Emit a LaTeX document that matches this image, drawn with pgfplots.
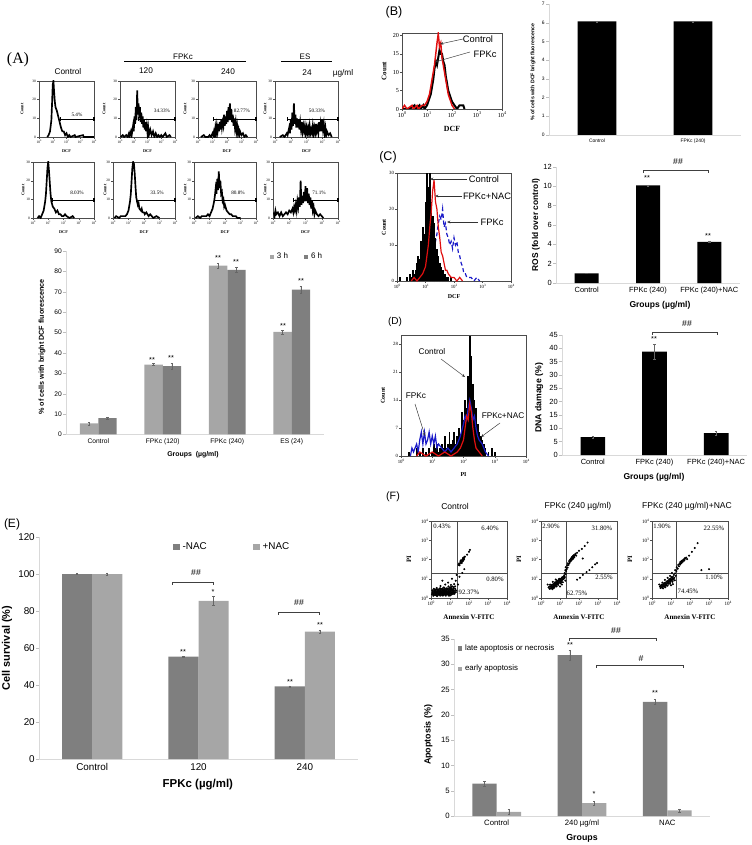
\documentclass[border=0pt]{standalone}
\usepackage{fontspec}
\setmainfont{Liberation Sans}
\newfontfamily\tm{Liberation Serif}
\usepackage{pgfplots}
\pgfplotsset{compat=1.18}
\usetikzlibrary{arrows.meta}
\newcommand{\fs}[1]{\fontsize{#1}{#1}\selectfont}
\newcommand{\sx}[1]{10\raisebox{.4em}{\scalebox{.7}{#1}}}
\definecolor{lg}{HTML}{A6A6A6}
\definecolor{dg}{HTML}{7F7F7F}
\definecolor{hblue}{HTML}{1A1AC8}
\definecolor{hred}{HTML}{E01010}
\pgfplotsset{
  /pgf/number format/assume math mode=true,
  pos/.style n args={4}{at={(#1*0.75pt,-#2*0.75pt)},anchor=north west,width=#3*0.75pt,height=#4*0.75pt,scale only axis},
  % flow histogram / dot plot frame
  logx/.style={xmin=0,xmax=4,xtick={0,1,2,3,4},xticklabels={\sx{0},\sx{1},\sx{2},\sx{3},\sx{4}},
    minor xtick={.3,.48,.6,.7,.78,.85,.9,.95,1.3,1.48,1.6,1.7,1.78,1.85,1.9,1.95,2.3,2.48,2.6,2.7,2.78,2.85,2.9,2.95,3.3,3.48,3.6,3.7,3.78,3.85,3.9,3.95}},
  frame/.style={logx,ymin=0,axis line style={black!70,line width=.45pt},tick align=outside,xtick pos=bottom,ytick pos=left,
    major tick length=1.5pt,minor tick length=.8pt,tick style={black!70,line width=.25pt},
    every tick label/.append style={inner sep=.6pt}},
  hl/.style={line width=#1,black,mark=none},
  % bar panels
  bars/.style={ybar=0pt,ymin=0,axis x line*=bottom,axis y line*=left,axis line style={black!15,line width=.6pt},
    tick align=outside,x tick style={draw=none},y tick style={black!25,line width=.3pt},major tick length=2pt,
    every tick label/.append style={inner sep=1pt},scaled ticks=false,
    legend image code/.code={\draw[##1,draw=none] (0,-1.6pt) rectangle (3.2pt,1.6pt);},
    legend style={draw=none,fill=none,inner sep=0pt}},
  errs/.style={error bars/.cd,y dir=both,y explicit,error bar style={black!60,line width=.3pt},error mark options={rotate=90,mark size=.9pt,line width=.3pt,black!60}},
  xl/.style n args={2}{xlabel style={at={(axis description cs:#1,#2)},anchor=center,inner sep=0pt}},
  yl/.style n args={2}{ylabel style={at={(axis description cs:#1,#2)},anchor=center,inner sep=0pt}},
  dots/.style={only marks,mark=*,mark size=.55pt,black},
}
% left, top, width, offset of Count, gate start (decades), data
\newcommand{\histA}[6]{%
\begin{axis}[pos={#1}{#2}{#3}{56},frame,ymax=30,ytick={0,10,20,30},
  tick label style={font=\tm\fs{2.7}},xlabel={DCF},ylabel={Count},
  xlabel style={font=\tm\bfseries\fs{3.2},at={(axis description cs:.5,0)},anchor=center,yshift=-10.8pt},
  ylabel style={font=\tm\bfseries\fs{3.2},at={(axis description cs:0,.5)},anchor=center,yshift=#4*.75pt}]
\addplot[hl=1.25pt] coordinates {#6};
\addplot[line width=.8pt,black,mark=|,mark size=1.4pt] coordinates {(#5,9.5) (4,9.5)};
\end{axis}}
\begin{document}
\begin{tikzpicture}[x=0.75pt,y=-0.75pt]
\path[use as bounding box] (0,0) rectangle (751,845);

% ---- (A) histograms
\histA{39}{81}{55}{17}{1.53}{(0.6,0)(0.7,1)(0.8,3)(0.9,9)(0.95,18)(1,28)(1.05,30)(1.1,24)(1.15,19)(1.2,16)(1.3,14)(1.4,11)(1.5,8)(1.6,5)(1.7,3)(1.8,3)(1.9,1)(2,2)(2.1,0)(2.2,1)(2.3,0)(2.6,1)(2.65,0)(3.2,1)(3.25,0)(4,0)}
\histA{120}{81}{55}{16}{1.33}{(0.05,0)(0.2,1)(0.3,0)(0.45,1)(0.55,0)(0.65,2)(0.7,0)(0.8,3)(0.85,1)(0.95,6)(1,3)(1.05,11)(1.1,7)(1.15,16)(1.2,9)(1.25,25)(1.3,12)(1.35,18)(1.4,10)(1.45,16)(1.5,8)(1.55,13)(1.6,7)(1.65,11)(1.7,5)(1.75,9)(1.8,4)(1.85,8)(1.9,3)(1.95,6)(2,2)(2.05,5)(2.1,1)(2.2,4)(2.3,1)(2.4,3)(2.5,0)(2.6,2)(2.7,0)(2.8,1)(2.9,0)(3,1)(3.1,0)(3.3,2)(3.4,0)(3.6,1)(3.7,0)}
\histA{198}{81}{58}{13}{1.05}{(0.2,0)(0.4,1)(0.5,0)(0.7,0)(0.8,1)(0.9,0)(1,2)(1.05,1)(1.1,3)(1.15,1)(1.2,5)(1.25,2)(1.3,6)(1.35,3)(1.4,7)(1.45,3)(1.5,8)(1.55,4)(1.6,9)(1.65,5)(1.7,8)(1.75,6)(1.8,12)(1.85,6)(1.9,11)(1.95,7)(2,14)(2.05,8)(2.1,16)(2.15,9)(2.2,18)(2.25,9)(2.3,15)(2.35,8)(2.4,12)(2.45,6)(2.5,10)(2.55,5)(2.6,8)(2.65,3)(2.7,6)(2.75,2)(2.8,4)(2.85,1)(2.9,3)(3,1)(3.1,2)(3.2,0)(3.3,1)(3.4,0)}
\histA{275}{81}{63}{10}{0.8}{(0.3,0)(0.5,1)(0.6,0)(0.75,2)(0.8,1)(0.9,5)(0.95,2)(1,9)(1.05,4)(1.1,13)(1.15,6)(1.2,18)(1.25,7)(1.3,12)(1.35,5)(1.4,10)(1.45,5)(1.5,9)(1.55,4)(1.6,8)(1.65,4)(1.7,8)(1.75,3)(1.8,6)(1.85,3)(1.9,6)(1.95,2)(2,5)(2.05,2)(2.1,5)(2.15,2)(2.2,6)(2.25,2)(2.3,4)(2.35,2)(2.4,6)(2.45,2)(2.5,5)(2.55,2)(2.6,7)(2.65,3)(2.7,5)(2.75,2)(2.8,8)(2.85,3)(2.9,7)(2.95,3)(3,9)(3.05,4)(3.1,7)(3.15,2)(3.2,5)(3.25,1)(3.3,3)(3.4,1)(3.5,2)(3.6,0)}
\histA{33}{162}{61}{10}{1.3}{(0.3,0)(0.4,1)(0.5,0)(0.6,2)(0.7,4)(0.8,9)(0.85,13)(0.9,20)(0.95,27)(1,30)(1.05,25)(1.1,19)(1.15,13)(1.2,9)(1.3,6)(1.4,5)(1.5,3)(1.6,4)(1.7,2)(1.8,2)(1.9,1)(2,1)(2.1,2)(2.2,1)(2.4,0)(2.6,1)(2.7,0)}
\histA{113}{162}{62}{8}{1.5}{(0.1,0)(0.2,1)(0.4,0)(0.5,1)(0.7,1)(0.8,1)(0.9,2)(1,4)(1.1,9)(1.15,13)(1.2,20)(1.25,27)(1.3,30)(1.35,29)(1.4,24)(1.45,17)(1.5,11)(1.55,9)(1.6,7)(1.65,8)(1.7,5)(1.8,4)(1.85,5)(1.9,3)(2,3)(2.05,2)(2.15,3)(2.3,1)(2.4,2)(2.6,0)(2.8,1)(3,0)}
\histA{194}{162}{62}{9}{1.35}{(0.1,0)(0.25,1)(0.4,0)(0.5,1)(0.6,1)(0.8,1)(0.9,2)(1,1)(1.1,3)(1.2,5)(1.3,9)(1.35,12)(1.4,16)(1.45,13)(1.5,21)(1.55,15)(1.6,25)(1.65,16)(1.7,20)(1.75,13)(1.8,14)(1.85,9)(1.9,10)(1.95,6)(2,7)(2.1,4)(2.2,3)(2.3,2)(2.4,2)(2.5,1)(2.7,1)(2.8,0)(3,0)}
\histA{273}{162}{65}{8}{1.25}{(0.05,3)(0.1,1)(0.15,4)(0.2,2)(0.3,3)(0.4,1)(0.5,3)(0.6,1)(0.7,2)(0.8,3)(0.9,2)(1,4)(1.1,3)(1.2,5)(1.25,3)(1.3,6)(1.35,4)(1.4,7)(1.45,4)(1.5,9)(1.55,6)(1.6,11)(1.65,6)(1.7,20)(1.75,7)(1.8,12)(1.85,8)(1.9,14)(1.95,9)(2,17)(2.05,9)(2.1,16)(2.15,8)(2.2,13)(2.25,7)(2.3,11)(2.35,5)(2.4,9)(2.45,4)(2.5,6)(2.55,2)(2.6,4)(2.7,2)(2.8,1)(2.9,2)(3,1)(3.1,0)}

% ---- (A) bars
\begin{axis}[pos={66}{251}{258}{183.5},bars,bar width=13.7pt,xmin=-.5,xmax=3.5,ymax=90,ytick={0,10,...,90},
  xtick={0,1,2,3},xticklabels={Control,FPKc (120),FPKc (240),ES (24)},tick label style={font=\fs{5}},
  xlabel={Groups\ \ (\textmu g/ml)},xl={.492}{-.112},xlabel style={font=\bfseries\fs{5.2}},
  ylabel={\% of cells with bright DCF fluorescence},yl={-.093}{.477},ylabel style={font=\bfseries\fs{5.4}},
  legend columns=2,legend style={at={(.897,.967)},anchor=center,font=\fs{6},/tikz/every even column/.append style={column sep=10pt}}]
\addplot[fill=lg,draw=none,errs] coordinates {(0,5.4)+-(0,.6) (1,34.33)+-(0,.5) (2,82.77)+-(0,1.3) (3,50.33)+-(0,.9)};
\addplot[fill=dg,draw=none,errs] coordinates {(0,8.03)+-(0,.4) (1,33.5)+-(0,1.5) (2,80.8)+-(0,1.4) (3,71.1)+-(0,1.8)};
\legend{3 h,6 h}
\end{axis}

% ---- (B)
\begin{axis}[pos={402}{33}{100}{76},frame,ymax=20.7,ytick={0,5,10,15,20},tick label style={font=\tm\fs{4.6}},
  xlabel={DCF},ylabel={Count},
  xlabel style={font=\tm\bfseries\fs{5.9},at={(axis description cs:.5,0)},anchor=center,yshift=-15pt},
  ylabel style={font=\tm\bfseries\fs{5.2},at={(axis description cs:0,.5)},anchor=center,yshift=13.5pt}]
\addplot[hl=1.5pt] coordinates {(0,0)(0.3,0)(0.5,1)(0.55,0)(0.7,1)(0.75,0)(0.85,1)(0.9,0)(1,1)(1.05,2)(1.1,3)(1.15,4)(1.2,6)(1.25,8)(1.3,11)(1.35,13)(1.4,12)(1.45,14)(1.5,16)(1.55,15)(1.6,15)(1.65,13)(1.7,12)(1.75,9)(1.8,7)(1.85,5)(1.9,4)(2,2)(2.1,1)(2.2,0)(2.3,1)(2.45,1)(2.5,0)};
\addplot[hl=1.1pt,hred] coordinates {(0,0)(0.1,1)(0.2,0)(0.4,1)(0.45,0)(0.6,1)(0.65,0)(0.8,1)(0.9,1)(1,2)(1.05,3)(1.1,4)(1.15,6)(1.2,8)(1.25,10)(1.3,12)(1.35,15)(1.4,18)(1.45,20.5)(1.5,17)(1.55,18)(1.6,14)(1.65,12)(1.7,10)(1.75,8)(1.8,6)(1.85,4)(1.9,3)(2,1)(2.1,0)};
\end{axis}
\begin{axis}[pos={549}{4}{192}{131},bars,bar width=29pt,xmin=-.5,xmax=1.5,ymax=7,ytick={0,...,7},
  xtick={0,1},xticklabels={Control,FPKc (240)},tick label style={font=\fs{3.7}},
  ylabel={\% of cells with DCF bright fluorescence},yl={-.083}{.48},ylabel style={font=\bfseries\fs{3.9}}]
\addplot[fill=black,draw=none,errs] coordinates {(0,6.07)+-(0,.03) (1,6.07)+-(0,.03)};
\end{axis}

% ---- (C)
\begin{axis}[pos={397}{173}{114}{108},frame,ymax=30,ytick={0,10,20,30},tick label style={font=\tm\fs{3.6}},
  xlabel={DCF},ylabel={Count},
  xlabel style={font=\tm\bfseries\fs{4.5},at={(axis description cs:.5,0)},anchor=center,yshift=-12pt},
  ylabel style={font=\tm\bfseries\fs{4.5},at={(axis description cs:0,.5)},anchor=center,yshift=9.8pt}]
\addplot[hblue,line width=.9pt,densely dashed,mark=none] coordinates {(0.7,0)(0.8,1)(1,1)(1.1,2)(1.2,5)(1.3,8)(1.35,11)(1.4,13)(1.45,16)(1.5,18)(1.55,17)(1.6,20)(1.65,15)(1.7,16)(1.75,13)(1.8,12)(1.85,10)(1.9,11)(1.95,9)(2,12)(2.05,10)(2.1,11)(2.15,8)(2.2,7)(2.25,5)(2.3,4)(2.35,2)(2.4,2)(2.45,1)(2.5,1)(2.6,1)(2.7,0)(2.8,1)(2.9,0)};
\addplot[ycomb,black,line width=1.5pt,mark=none] coordinates {(0.1,1)(0.2,0)(0.35,1)(0.45,2)(0.5,1)(0.55,3)(0.6,2)(0.65,3)(0.7,5)(0.75,7)(0.8,6)(0.85,11)(0.9,15)(0.95,13)(1,22)(1.05,30)(1.1,26)(1.15,30)(1.2,22)(1.25,18)(1.3,16)(1.35,12)(1.4,9)(1.45,7)(1.5,5)(1.55,4)(1.6,3)(1.65,2)(1.7,2)(1.75,1)(1.8,1)(1.9,1)(2,0)};
\addplot[hl=.9pt,hred] coordinates {(0.5,0)(0.6,1)(0.7,0)(0.8,1)(0.9,2)(1,4)(1.05,7)(1.1,10)(1.15,15)(1.2,19)(1.25,25)(1.3,28)(1.35,22)(1.4,20)(1.45,15)(1.5,12)(1.55,8)(1.6,7)(1.65,5)(1.7,3)(1.75,3)(1.8,2)(1.9,1)(2,1)(2.1,0)(2.2,1)(2.3,0)};
\end{axis}
\begin{axis}[pos={556}{167}{184}{116},bars,bar width=18pt,xmin=-.5,xmax=2.5,ymax=12,ytick={0,2,...,12},
  xtick={0,1,2},xticklabels={Control,FPKc (240),FPKc (240)+NAC},tick label style={font=\fs{5.6}},
  xlabel={Groups (\textmu g/ml)},xl={.565}{-.19},xlabel style={font=\bfseries\fs{6.4}},
  ylabel={ROS (fold over control)},yl={-.109}{.5},ylabel style={font=\bfseries\fs{6.3}}]
\addplot[fill=black,draw=none,errs] coordinates {(0,1)+-(0,.02) (1,10.1)+-(0,.06) (2,4.25)+-(0,.06)};
\end{axis}

% ---- (D)
\begin{axis}[pos={401}{335}{125}{121},frame,ymax=30.25,ytick={0,7,14,21,28},tick label style={font=\tm\fs{3.6}},
  xlabel={PI},ylabel={Count},
  xlabel style={font=\tm\bfseries\fs{4.5},at={(axis description cs:.5,0)},anchor=center,yshift=-14.2pt},
  ylabel style={font=\tm\bfseries\fs{4.5},at={(axis description cs:0,.5)},anchor=center,yshift=13.5pt}]
\addplot[ycomb,black,line width=1.4pt,mark=none] coordinates {(0.25,1)(0.35,0)(0.5,2)(0.6,1)(0.7,2)(0.8,1)(0.9,2)(1,1)(1.05,3)(1.1,2)(1.15,3)(1.2,1)(1.25,2)(1.3,3)(1.35,2)(1.4,5)(1.45,2)(1.5,3)(1.55,6)(1.6,3)(1.65,4)(1.7,6)(1.75,3)(1.8,5)(1.85,7)(1.9,5)(1.95,11)(2,9)(2.05,14)(2.1,12)(2.15,20)(2.2,30)(2.25,25)(2.3,18)(2.35,14)(2.4,12)(2.45,8)(2.5,6)(2.55,5)(2.6,4)(2.65,3)(2.7,2)(2.8,1)(2.9,2)(3,1)};
\addplot[hblue,line width=.9pt,mark=none] coordinates {(0.3,0)(0.35,2)(0.4,1)(0.5,3)(0.55,1)(0.6,4)(0.65,6)(0.7,3)(0.75,6)(0.8,3)(0.85,4)(0.9,6)(0.95,3)(1,5)(1.05,3)(1.1,5)(1.15,2)(1.2,3)(1.3,2)(1.4,1)(1.5,2)(1.6,1)(1.7,2)(1.8,3)(1.9,5)(2,8)(2.05,10)(2.1,9)(2.15,12)(2.2,14)(2.25,12)(2.3,9)(2.35,10)(2.4,7)(2.45,5)(2.5,4)(2.6,3)(2.7,1)(2.8,0)};
\addplot[hl=.9pt,hred] coordinates {(0.5,0)(0.6,1)(0.8,0)(1,1)(1.2,0)(1.4,1)(1.6,0)(1.8,1)(1.9,2)(2,4)(2.05,7)(2.1,10)(2.15,9)(2.2,13)(2.25,11)(2.3,7)(2.35,4)(2.4,2)(2.5,1)(2.6,0)};
\end{axis}
\begin{axis}[pos={562}{335}{185}{120},bars,bar width=18.5pt,xmin=-.5,xmax=2.5,ymax=45,ytick={0,5,...,45},
  xtick={0,1,2},xticklabels={Control,FPKc (240),FPKc (240)+NAC},tick label style={font=\fs{5.6}},
  xlabel={Groups (\textmu g/ml)},xl={.497}{-.183},xlabel style={font=\bfseries\fs{6.4}},
  ylabel={DNA damage (\%)},yl={-.124}{.475},ylabel style={font=\bfseries\fs{6.5}}]
\addplot[fill=black,draw=none,errs] coordinates {(0,6.7)+-(0,.4) (1,38.8)+-(0,2.8) (2,8.2)+-(0,.8)};
\end{axis}

% ---- (E)
\begin{axis}[pos={39}{537}{319}{222},bars,bar width=22.6pt,xmin=-.5,xmax=2.5,ymax=120,ytick={0,20,...,120},
  xtick={0,1,2},xticklabels={Control,120,240},tick label style={font=\fs{7.4}},
  xlabel={FPKc (\textmu g/ml)},xl={.498}{-.117},xlabel style={font=\bfseries\fs{8.6}},
  ylabel={Cell survival (\%)},yl={-.1}{.5},ylabel style={font=\bfseries\fs{8.2}},
  legend columns=2,legend style={at={(.607,.955)},anchor=center,font=\fs{7.4},/tikz/every even column/.append style={column sep=33pt}},
  legend image code/.code={\draw[#1,draw=none] (0,-2.5pt) rectangle (5pt,2.5pt);}]
\addplot[fill=dg,draw=none,errs] coordinates {(0,100)+-(0,.2) (1,55.3)+-(0,.3) (2,39.3)+-(0,.3)};
\addplot[fill=lg,draw=none,errs] coordinates {(0,100)+-(0,.6) (1,85.5)+-(0,2.3) (2,68.8)+-(0,1)};
\legend{-NAC,+NAC}
\end{axis}

% ---- (F) dot plots
\begin{axis}[pos={431}{521}{76}{77},frame,ymin=0,ymax=4,ytick={0,1,2,3,4},yticklabels={\sx{0},\sx{1},\sx{2},\sx{3},\sx{4}},
  tick label style={font=\tm\fs{3.8}},xlabel={Annexin V-FITC},ylabel={PI},
  xlabel style={font=\tm\bfseries\fs{5.3},at={(axis description cs:.5,0)},anchor=center,yshift=-14.2pt},
  ylabel style={font=\tm\bfseries\fs{5},at={(axis description cs:0,.5)},anchor=center,yshift=16.5pt}]
\addplot[dots] coordinates {(.05,.2)(.1,.35)(.12,.12)(.15,.48)(.18,.28)(.2,.15)(.22,.4)(.25,.3)(.28,.22)(.3,.52)(.32,.1)(.34,.36)(.36,.25)(.38,.45)(.4,.18)(.42,.32)(.44,.27)(.46,.5)(.48,.12)(.5,.4)(.52,.24)(.54,.34)(.56,.2)(.58,.46)(.6,.3)(.62,.16)(.64,.38)(.66,.26)(.68,.55)(.7,.32)(.72,.2)(.74,.42)(.76,.28)(.78,.12)(.8,.36)(.82,.5)(.84,.24)(.86,.44)(.88,.18)(.9,.3)(.92,.6)(.94,.38)(.96,.22)(.98,.46)(1,.3)(1.02,.14)(1.04,.52)(1.06,.36)(1.08,.26)(1.1,.42)(1.12,.6)(1.15,.2)(1.18,.34)(1.2,.5)(1.22,.72)(1.25,.3)(1.28,.46)(1.3,.9)(1.32,.38)(1.05,.68)(.75,.7)(.9,.8)(.5,.62)(.35,.15)(.15,.25)(.25,.44)(.45,.22)(.55,.3)(.65,.14)(.85,.32)(.95,.12)(.08,.28)(.3,.3)(.4,.38)(.6,.22)(.7,.26)(.8,.22)(.2,.34)(.5,.3)(.62,.4)(.72,.34)(.92,.26)(1.02,.36)(1.15,.44)(1.42,.7)(1.5,1.1)(1.35,1.2)(1.1,1)(.6,.9)
(.07,.4)(.14,.18)(.17,.38)(.23,.22)(.27,.36)(.29,.14)(.33,.44)(.37,.32)(.41,.24)(.43,.42)(.47,.33)(.49,.2)(.53,.46)(.57,.36)(.59,.13)(.61,.5)(.63,.28)(.67,.34)(.69,.18)(.71,.42)(.73,.5)(.77,.36)(.79,.2)(.81,.3)(.83,.42)(.87,.28)(.89,.5)(.91,.36)(.93,.18)(.97,.32)(.99,.54)(1.01,.24)(1.03,.44)(1.07,.18)(1.09,.48)(1.11,.3)(1.13,.38)(1.17,.26)(1.19,.56)(1.21,.38)(1.24,.22)(1.27,.6)(1.3,.3)(.1,.22)(.18,.42)(.26,.16)(.34,.28)(.42,.2)(.5,.5)(.58,.26)(.66,.44)(.74,.3)(.82,.26)(.9,.42)(.98,.24)(1.06,.58)(1.14,.28)
(1.45,1.72)(1.48,1.8)(1.52,1.78)(1.55,1.88)(1.58,1.85)(1.6,1.95)(1.63,1.92)(1.66,2)(1.68,2.05)(1.72,2.02)(1.75,2.1)(1.78,2.15)(1.62,1.82)(1.7,1.95)(1.5,1.7)(1.9,2.25)(2,2.4)(2.05,2.5)(1.75,1.5)(1.65,1.3)(1.56,1.95)(1.66,1.9)(1.74,2.02)(1.7,2.1)};
\addplot[black!70,line width=.4pt] coordinates {(1.37,0) (1.37,4)};
\addplot[black!70,line width=.4pt] coordinates {(0,1.3) (4,1.3)};
\end{axis}
\begin{axis}[pos={541}{521}{76}{77},frame,ymin=0,ymax=4,ytick={0,1,2,3,4},yticklabels={\sx{0},\sx{1},\sx{2},\sx{3},\sx{4}},
  tick label style={font=\tm\fs{3.8}},xlabel={Annexin V-FITC},ylabel={PI},
  xlabel style={font=\tm\bfseries\fs{5.3},at={(axis description cs:.5,0)},anchor=center,yshift=-14.2pt},
  ylabel style={font=\tm\bfseries\fs{5},at={(axis description cs:0,.5)},anchor=center,yshift=16.5pt}]
\addplot[dots] coordinates {(.4,.55)(.45,.48)(.5,.6)(.52,.5)(.55,.66)(.58,.56)(.6,.7)(.62,.6)(.65,.52)(.68,.74)(.7,.64)(.72,.8)(.75,.7)(.78,.62)(.8,.84)(.82,.74)(.85,.9)(.88,.78)(.9,.68)(.92,.92)(.95,.82)(.98,1)(1,.88)(1.02,.76)(1.05,1)(1.08,.9)(1.1,1.05)(1.12,.95)(1.15,.82)(1.18,1.1)(1.2,1)(1.22,1.18)(1.25,1.05)(1.28,.9)(.6,.46)(.7,.54)(.82,.6)(.48,.7)(.62,.84)(.78,.96)(1.3,1.25)(1.32,1.4)(1.1,.7)(1,.6)(.35,.7)
(.44,.6)(.5,.5)(.56,.58)(.6,.54)(.64,.68)(.68,.58)(.72,.66)(.76,.78)(.8,.68)(.84,.8)(.88,.86)(.92,.76)(.96,.9)(1,.96)(1.04,.88)(1.08,1.02)(1.12,1.08)(1.16,.98)(.66,.62)(.74,.74)(.86,.72)(.94,.98)(1.06,.8)(1.24,1.12)
(1.25,1.3)(1.28,1.45)(1.3,1.6)(1.35,1.5)(1.38,1.7)(1.4,1.58)(1.42,1.8)(1.45,1.72)(1.48,1.92)(1.5,1.82)(1.52,1.98)(1.55,1.9)(1.58,2.05)(1.6,1.96)(1.62,2.12)(1.65,2.02)(1.68,2.18)(1.7,2.08)(1.72,2.22)(1.75,2.12)(1.8,2.25)(1.85,2.2)(1.9,2.35)(2,2.45)(2.15,2.55)(2.3,2.7)(2.45,2.88)(1.56,1.98)(1.6,2.05)(1.64,2.1)(1.68,2.04)(1.72,2.14)(1.76,2.2)(1.66,2.14)(1.82,2.3)
(1.9,.95)(2.05,1.05)(2.2,1.2)(2.4,1.35)(2.55,1.45)(2.7,1.6)(2.85,1.75)(2.95,1.82)(2.2,2.05)};
\addplot[black!70,line width=.4pt] coordinates {(1.32,0) (1.32,4)};
\addplot[black!70,line width=.4pt] coordinates {(0,1.3) (4,1.3)};
\end{axis}
\begin{axis}[pos={652}{521}{76}{77},frame,ymin=0,ymax=4,ytick={0,1,2,3,4},yticklabels={\sx{0},\sx{1},\sx{2},\sx{3},\sx{4}},
  tick label style={font=\tm\fs{3.8}},xlabel={Annexin V-FITC},ylabel={PI},
  xlabel style={font=\tm\bfseries\fs{5.3},at={(axis description cs:.5,0)},anchor=center,yshift=-14.2pt},
  ylabel style={font=\tm\bfseries\fs{5},at={(axis description cs:0,.5)},anchor=center,yshift=16.5pt}]
\addplot[dots] coordinates {(.42,.6)(.45,.52)(.48,.66)(.5,.56)(.52,.7)(.55,.6)(.58,.5)(.6,.72)(.62,.62)(.65,.78)(.68,.66)(.7,.56)(.72,.8)(.75,.7)(.78,.86)(.8,.76)(.82,.64)(.85,.9)(.88,.8)(.9,.98)(.92,.86)(.95,.74)(.98,1)(1,.9)(1.02,1.08)(1.05,.96)(1.08,.84)(1.1,1.1)(1.12,1)(1.15,1.2)(1.18,1.05)(1.2,.92)(1.22,1.28)(1.25,1.15)(.55,.8)(.68,.94)(.82,1.05)(.95,1.15)(1.05,1.3)(.38,.7)(1,.66)(1.1,.72)
(.46,.62)(.5,.66)(.54,.54)(.58,.64)(.62,.7)(.66,.6)(.7,.74)(.74,.64)(.78,.76)(.82,.84)(.86,.74)(.9,.86)(.94,.92)(.98,.84)(1.02,.94)(1.06,1.04)(1.1,.94)(.6,.6)(.72,.68)(.84,.8)(.96,.98)
(1.22,1.45)(1.28,1.4)(1.3,1.6)(1.35,1.52)(1.38,1.72)(1.42,1.65)(1.45,1.8)(1.48,1.74)(1.5,1.88)(1.55,1.82)(1.58,1.94)(1.62,1.88)(1.65,2)(1.7,1.95)(1.75,2.05)(1.8,2.1)(1.85,2.02)(1.95,2.2)(2.1,2.4)(2.25,2.6)(2.4,2.85)(2.6,1.45)(3,1.5)(1.52,1.8)(1.6,1.9)(1.68,1.98)(1.72,2.06)(1.56,1.9)};
\addplot[black!70,line width=.4pt] coordinates {(1.26,0) (1.26,4)};
\addplot[black!70,line width=.4pt] coordinates {(0,1.3) (4,1.3)};
\end{axis}

% ---- (F) bars
\begin{axis}[pos={454}{639}{256}{177},bars,bar width=18.3pt,xmin=-.5,xmax=2.5,ymax=35,ytick={0,5,...,35},
  xtick={0,1,2},xticklabels={Control,240 \textmu g/ml,NAC},tick label style={font=\fs{5.8}},
  xlabel={Groups},xl={.5}{-.124},xlabel style={font=\bfseries\fs{6.6}},
  ylabel={Apoptosis (\%)},yl={-.10}{.458},ylabel style={font=\bfseries\fs{6.7}},
  legend style={at={(.015,.985)},anchor=north west,font=\fs{5.9},row sep=5.5pt,cells={anchor=west}}]
\addplot[fill=dg,draw=none,errs] coordinates {(0,6.4)+-(0,.5) (1,31.8)+-(0,1) (2,22.55)+-(0,.5)};
\addplot[fill=lg,draw=none,errs] coordinates {(0,.8)+-(0,.5) (1,2.55)+-(0,.4) (2,1.1)+-(0,.3)};
\legend{late apoptosis or necrosis,early apoptosis}
\end{axis}

% ---- panel letters and captions
\tikzset{every node/.append style={inner sep=0pt}}
\node[font=\tm\fs{11.9}] at (18,60) {(A)};
\node[font=\fs{9.4}] at (394,12) {(B)};
\node[font=\fs{9.4}] at (388,157) {(C)};
\node[font=\fs{7.5}] at (395,322) {(D)};
\node[font=\fs{9}] at (12,524) {(E)};
\node[font=\fs{8}] at (393,497) {(F)};
\node[font=\fs{6}] at (183,57) {FPKc};
\node[font=\fs{6}] at (305,57) {ES};
\draw[black,line width=.5pt] (124,61) -- (246,61) (281,61) -- (332,61);
\node[font=\fs{6.2}] at (68,72) {Control};
\node[font=\fs{6.2}] at (146,71) {120};
\node[font=\fs{6.2}] at (228,72) {240};
\node[font=\fs{6.2}] at (307,73) {24};
\node[font=\fs{6.2}] at (343,73) {\textmu g/ml};
\foreach \x/\y/\t in {77/115/5.4\%,162/111/34.33\%,242/111/82.77\%,317/111/50.33\%,77/193/8.03\%,157/193/33.5\%,238/193/80.8\%,319/193/71.1\%}
  \node[font=\tm\fs{3.9}] at (\x,\y) {\t};

% stars and brackets
\foreach \x/\y in {152/360,171/358,218/258,236/262,283/326,301/281}
  \node[font=\fs{5.5}] at (\x,\y) {**};
\foreach \x/\y in {647/178,708/236,654/339,183/652,290/682,320/625,570/645,655/693}
  \node[font=\fs{5.5}] at (\x,\y) {**};
\foreach \x/\y in {213/592,594/794}
  \node[font=\fs{5.5}] at (\x,\y) {*};
\foreach \a/\b/\y in {643/708/170,652/717/332,172/213/582,278/319/612,569/656/638,596/683/665}
  \draw[black!75,line width=.35pt] (\a,\y+2.5) -- (\a,\y) -- (\b,\y) -- (\b,\y+2.5);
\foreach \x/\y/\t in {678/162/\#\#,687/324/\#\#,196/573/\#\#,299/603/\#\#,616/631/\#\#,641/659/\#}
  \node[font=\fs{6.5}] at (\x,\y) {\t};

% labels and arrows in the overlay histograms
\node[font=\fs{7}] at (478,39) {Control};
\node[font=\fs{7}] at (485,54) {FPKc};
\node[font=\fs{7}] at (484,179) {Control};
\node[font=\fs{7}] at (487,196) {FPKc+NAC};
\node[font=\fs{7}] at (492,222) {FPKc};
\node[font=\fs{6.2}] at (432,352) {Control};
\node[font=\fs{6.2}] at (416,396) {FPKc};
\node[font=\fs{6.2}] at (503,416) {FPKc+NAC};
\tikzset{ar/.style={-{Stealth[length=2.5pt,width=2pt]},black!80,line width=.35pt}}
\draw[ar] (463,39) -- (440,44);
\draw[ar] (470,52) -- (435,62);
\draw[ar] (467,179) -- (430,179);
\draw[ar] (462,196) -- (435,196);
\draw[ar] (478,222) -- (447,222);
\draw[ar] (441,359) -- (465,377);
\draw[ar] (415,404) -- (425,436);
\draw[ar] (500,423) -- (481,437);

% titles over the dot plots
\node[font=\fs{6.4}] at (455,506) {Control};
\node[font=\fs{6.4}] at (578,506) {FPKc (240 \textmu g/ml)};
\node[font=\fs{6.4}] at (687,506) {FPKc (240 \textmu g/ml)+NAC};
\foreach \x/\y/\t in {442/526/0.43\%,490/528/6.40\%,495/579/0.80\%,469/592/92.37\%,551/526/2.90\%,602/528/31.80\%,604/577/2.55\%,577/593/62.75\%,662/526/1.90\%,714/528/22.55\%,714/577/1.10\%,688/591/74.45\%}
  \node[font=\tm\fs{5}] at (\x,\y) {\t};
\end{tikzpicture}
\end{document}
